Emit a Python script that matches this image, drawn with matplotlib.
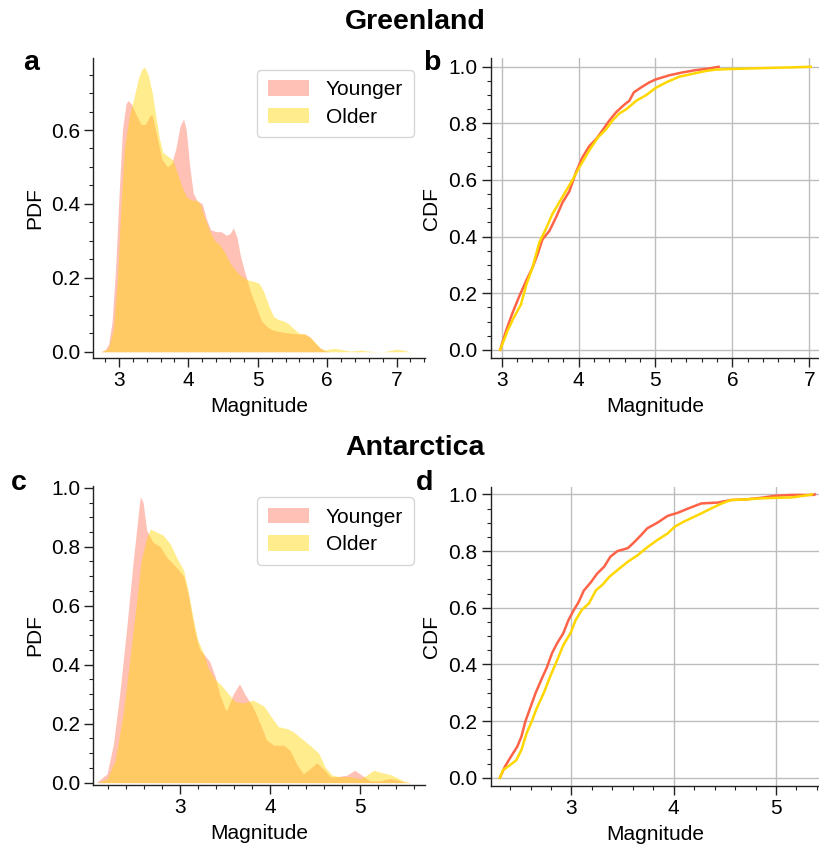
import matplotlib
matplotlib.use('Agg')
import matplotlib.pyplot as plt
from matplotlib.ticker import MultipleLocator
from matplotlib.patches import Patch

plt.rcParams['font.family'] = ['Liberation Sans', 'DejaVu Sans']

# ---------------- data ----------------
labels = ["Younger", "Older"]
regions = ["Greenland", "Antarctica"]

# Greenland PDF
g_young_x = [2.73, 2.80, 2.85, 2.90, 2.95, 3.00, 3.05, 3.10, 3.13, 3.18, 3.25, 3.32, 3.38, 3.45, 3.48,
             3.55, 3.62, 3.70, 3.76, 3.82, 3.88, 3.93, 3.97, 4.02, 4.07, 4.12, 4.20, 4.26, 4.32, 4.40,
             4.47, 4.55, 4.60, 4.65, 4.70, 4.75, 4.82, 4.90, 4.98, 5.05, 5.12, 5.20, 5.30, 5.40, 5.50,
             5.60, 5.68, 5.75, 5.82, 5.90, 5.98, 6.05]
g_young_pdf = [0.0, 0.005, 0.02, 0.08, 0.22, 0.42, 0.60, 0.67, 0.68, 0.67, 0.64, 0.615, 0.615, 0.64, 0.64,
               0.58, 0.52, 0.50, 0.51, 0.55, 0.61, 0.63, 0.60, 0.50, 0.43, 0.41, 0.40, 0.36, 0.33, 0.325,
               0.325, 0.315, 0.32, 0.335, 0.31, 0.26, 0.21, 0.16, 0.12, 0.085, 0.07, 0.06, 0.055, 0.052, 0.05,
               0.048, 0.048, 0.04, 0.025, 0.01, 0.002, 0.0]
g_old_x = [2.75, 2.85, 2.92, 2.98, 3.03, 3.08, 3.15, 3.22, 3.28, 3.33, 3.37, 3.42, 3.48, 3.53, 3.58,
           3.63, 3.70, 3.77, 3.83, 3.90, 3.97, 4.05, 4.12, 4.17, 4.22, 4.30, 4.38, 4.45, 4.52, 4.60,
           4.68, 4.76, 4.85, 4.95, 5.02, 5.08, 5.13, 5.18, 5.23, 5.30, 5.38, 5.45, 5.52, 5.60, 5.68,
           5.75, 5.83, 5.90, 5.97, 6.05, 6.12, 6.22, 6.32, 6.40, 6.48, 6.55, 6.65, 6.80, 6.92, 7.00,
           7.08, 7.20, 7.27]
g_old_pdf = [0.0, 0.01, 0.06, 0.20, 0.40, 0.55, 0.64, 0.69, 0.74, 0.765, 0.77, 0.75, 0.70, 0.64, 0.58,
             0.54, 0.53, 0.52, 0.49, 0.45, 0.42, 0.41, 0.41, 0.40, 0.37, 0.33, 0.30, 0.29, 0.27, 0.24,
             0.22, 0.205, 0.195, 0.19, 0.185, 0.165, 0.14, 0.115, 0.095, 0.087, 0.083, 0.075, 0.062, 0.05, 0.048,
             0.04, 0.025, 0.01, 0.005, 0.008, 0.009, 0.006, 0.002, 0.003, 0.005, 0.003, 0.001, 0.0, 0.004, 0.007,
             0.005, 0.0, 0.0]

# Greenland CDF
g_young_cx = [2.98, 3.06, 3.14, 3.23, 3.32, 3.40, 3.47, 3.53, 3.62, 3.71, 3.79, 3.88, 3.97, 4.05, 4.14,
              4.23, 4.31, 4.40, 4.49, 4.59, 4.66, 4.72, 4.83, 4.92, 5.00, 5.18, 5.35, 5.52, 5.70, 5.82]
g_young_cdf = [0.0, 0.07, 0.13, 0.19, 0.245, 0.29, 0.34, 0.39, 0.42, 0.47, 0.52, 0.56, 0.63, 0.68, 0.72,
               0.745, 0.775, 0.81, 0.84, 0.865, 0.88, 0.91, 0.93, 0.945, 0.955, 0.97, 0.98, 0.988, 0.994, 1.0]
g_old_cx = [2.98, 3.08, 3.16, 3.25, 3.32, 3.40, 3.49, 3.58, 3.66, 3.79, 3.92, 4.01, 4.14, 4.25, 4.36,
            4.44, 4.53, 4.62, 4.75, 4.88, 5.00, 5.14, 5.31, 5.48, 5.65, 5.78, 5.96, 6.35, 6.78, 7.00, 7.02]
g_old_cdf = [0.0, 0.07, 0.115, 0.16, 0.23, 0.29, 0.38, 0.43, 0.48, 0.54, 0.60, 0.645, 0.705, 0.75, 0.78,
             0.81, 0.835, 0.85, 0.88, 0.90, 0.925, 0.945, 0.965, 0.975, 0.985, 0.99, 0.992, 0.995, 0.998, 1.0, 1.0]

# Antarctica PDF
a_young_x = [2.07, 2.19, 2.26, 2.33, 2.41, 2.48, 2.54, 2.56, 2.59, 2.63, 2.70, 2.78, 2.85, 2.96, 3.04,
             3.09, 3.13, 3.17, 3.22, 3.28, 3.33, 3.39, 3.44, 3.50, 3.52, 3.59, 3.66, 3.72, 3.81, 3.89,
             3.96, 4.04, 4.15, 4.22, 4.30, 4.37, 4.44, 4.52, 4.59, 4.67, 4.74, 4.85, 4.94, 5.02, 5.11,
             5.22, 5.33, 5.41, 5.48, 5.56]
a_young_pdf = [0.0, 0.03, 0.13, 0.30, 0.53, 0.75, 0.92, 0.97, 0.95, 0.855, 0.815, 0.80, 0.765, 0.73, 0.70,
               0.64, 0.57, 0.505, 0.45, 0.43, 0.41, 0.36, 0.30, 0.25, 0.245, 0.30, 0.335, 0.30, 0.256, 0.20,
               0.145, 0.127, 0.127, 0.11, 0.06, 0.03, 0.047, 0.067, 0.047, 0.02, 0.02, 0.025, 0.042, 0.025, 0.006,
               0.006, 0.014, 0.01, 0.002, 0.0]
a_old_x = [2.09, 2.19, 2.28, 2.37, 2.44, 2.52, 2.57, 2.63, 2.67, 2.74, 2.81, 2.89, 2.96, 3.04, 3.09,
           3.15, 3.20, 3.26, 3.31, 3.39, 3.46, 3.54, 3.61, 3.70, 3.81, 3.93, 4.02, 4.09, 4.19, 4.26,
           4.35, 4.44, 4.54, 4.61, 4.69, 4.78, 4.89, 5.00, 5.07, 5.15, 5.24, 5.33, 5.41, 5.48, 5.56]
a_old_pdf = [0.0, 0.013, 0.075, 0.235, 0.41, 0.62, 0.755, 0.83, 0.86, 0.85, 0.84, 0.81, 0.765, 0.72, 0.65,
             0.55, 0.48, 0.44, 0.39, 0.35, 0.33, 0.30, 0.275, 0.27, 0.28, 0.26, 0.22, 0.19, 0.183, 0.172,
             0.15, 0.127, 0.10, 0.053, 0.025, 0.02, 0.02, 0.013, 0.025, 0.042, 0.034, 0.028, 0.017, 0.006, 0.0]

# Antarctica CDF
a_young_cx = [2.30, 2.35, 2.40, 2.47, 2.51, 2.55, 2.60, 2.65, 2.71, 2.76, 2.81, 2.86, 2.92, 2.97, 3.02,
              3.07, 3.12, 3.19, 3.25, 3.32, 3.38, 3.45, 3.55, 3.61, 3.68, 3.74, 3.84, 3.94, 4.04, 4.14,
              4.27, 4.43, 4.56, 4.70, 4.86, 4.99, 5.15, 5.37, 5.38]
a_young_cdf = [0.0, 0.04, 0.07, 0.11, 0.145, 0.20, 0.25, 0.30, 0.35, 0.39, 0.44, 0.475, 0.51, 0.556, 0.59,
               0.62, 0.66, 0.69, 0.72, 0.745, 0.78, 0.80, 0.81, 0.83, 0.856, 0.88, 0.90, 0.924, 0.935, 0.95,
               0.968, 0.971, 0.98, 0.982, 0.988, 0.995, 0.998, 0.998, 1.0]
a_old_cx = [2.30, 2.33, 2.40, 2.46, 2.51, 2.56, 2.61, 2.66, 2.73, 2.79, 2.86, 2.92, 2.99, 3.04, 3.10,
            3.17, 3.24, 3.30, 3.37, 3.45, 3.55, 3.65, 3.74, 3.84, 3.94, 4.01, 4.10, 4.20, 4.27, 4.37,
            4.47, 4.56, 4.70, 4.86, 5.02, 5.15, 5.33, 5.35]
a_old_cdf = [0.0, 0.027, 0.045, 0.062, 0.098, 0.156, 0.198, 0.245, 0.30, 0.356, 0.415, 0.468, 0.51, 0.556, 0.592,
             0.615, 0.662, 0.68, 0.709, 0.733, 0.762, 0.786, 0.813, 0.839, 0.862, 0.886, 0.904, 0.921, 0.933, 0.951,
             0.968, 0.98, 0.982, 0.986, 0.988, 0.989, 0.998, 1.0]

pdf_data = [((g_young_x, g_young_pdf), (g_old_x, g_old_pdf)),
            ((a_young_x, a_young_pdf), (a_old_x, a_old_pdf))]
cdf_data = [((g_young_cx, g_young_cdf), (g_old_cx, g_old_cdf)),
            ((a_young_cx, a_young_cdf), (a_old_cx, a_old_cdf))]

# ---------------- style ----------------
YOUNG = '#FF6347'
OLD = '#FFD700'
FS = 15
W, H = 820, 851

fig = plt.figure(figsize=(W / 100, H / 100), dpi=100)


def box(l, t, r, b):
    return [l / W, 1 - b / H, (r - l) / W, (b - t) / H]


pos = {
    'a': box(93.3, 58.3, 425, 357.7),
    'b': box(490.7, 58.3, 820, 358.3),
    'c': box(93.3, 486.0, 425, 785.0),
    'd': box(490.7, 486.7, 820, 785.7),
}
limits = {
    'a': ((2.63, 7.41), (-0.016, 0.794)),
    'b': ((2.857, 7.14), (-0.03, 1.03)),
    'c': ((2.037, 5.72), (-0.008, 1.006)),
    'd': ((2.21, 5.43), (-0.028, 1.027)),
}


def style(ax, key):
    for s in ['top', 'right']:
        ax.spines[s].set_visible(False)
    for s in ['left', 'bottom']:
        ax.spines[s].set_linewidth(1.0)
        ax.spines[s].set_color('#222222')
    ax.set_xlim(*limits[key][0])
    ax.set_ylim(*limits[key][1])
    ax.xaxis.set_major_locator(MultipleLocator(1))
    ax.xaxis.set_minor_locator(MultipleLocator(0.2))
    ax.yaxis.set_major_locator(MultipleLocator(0.2))
    ax.yaxis.set_minor_locator(MultipleLocator(0.05))
    ax.tick_params(which='major', direction='out', length=6.5, width=1.0, labelsize=FS, pad=3, color='#222222')
    ax.tick_params(which='minor', direction='out', length=3, width=0.8, color='#222222')
    ax.set_xlabel('Magnitude', fontsize=FS, labelpad=5)


letters = [('a', 'b'), ('c', 'd')]
for r in range(2):
    kp, kc = letters[r]
    # PDF panel
    ax = fig.add_axes(pos[kp])
    (yx, yy), (ox, oy) = pdf_data[r]
    ax.fill_between(yx, yy, color=YOUNG, alpha=0.4, lw=0)
    ax.fill_between(ox, oy, color=OLD, alpha=0.45, lw=0)
    style(ax, kp)
    ax.set_ylabel('PDF', fontsize=FS, labelpad=5)
    handles = [Patch(facecolor=YOUNG, alpha=0.4, edgecolor='none'),
               Patch(facecolor=OLD, alpha=0.45, edgecolor='none')]
    leg = ax.legend(handles, labels, loc='upper right', fontsize=FS, frameon=True,
                    handlelength=2.0, handleheight=0.75, handletextpad=0.8,
                    labelspacing=0.4, borderpad=0.5, borderaxespad=0.55)
    leg.get_frame().set_edgecolor('#cccccc')
    leg.get_frame().set_linewidth(1.0)

    # CDF panel
    ax2 = fig.add_axes(pos[kc])
    (yx, yy), (ox, oy) = cdf_data[r]
    ax2.grid(True, which='major', color='#bdbdbd', lw=1.0)
    ax2.set_axisbelow(True)
    ax2.plot(yx, yy, color=YOUNG, lw=1.8)
    ax2.plot(ox, oy, color=OLD, lw=1.8)
    style(ax2, kc)
    ax2.set_ylabel('CDF', fontsize=FS, labelpad=5)

# titles and panel letters
fig.text(415 / W, 1 - 22 / H, regions[0], ha='center', va='center', fontsize=20.5, fontweight='bold')
fig.text(415 / W, 1 - 448 / H, regions[1], ha='center', va='center', fontsize=20.5, fontweight='bold')
for lab, x, y in [('a', 31, 63), ('b', 432, 63), ('c', 19, 483), ('d', 425, 483)]:
    fig.text(x / W, 1 - y / H, lab, ha='center', va='center', fontsize=20.5, fontweight='bold')

fig.savefig('out.png', dpi=100)
